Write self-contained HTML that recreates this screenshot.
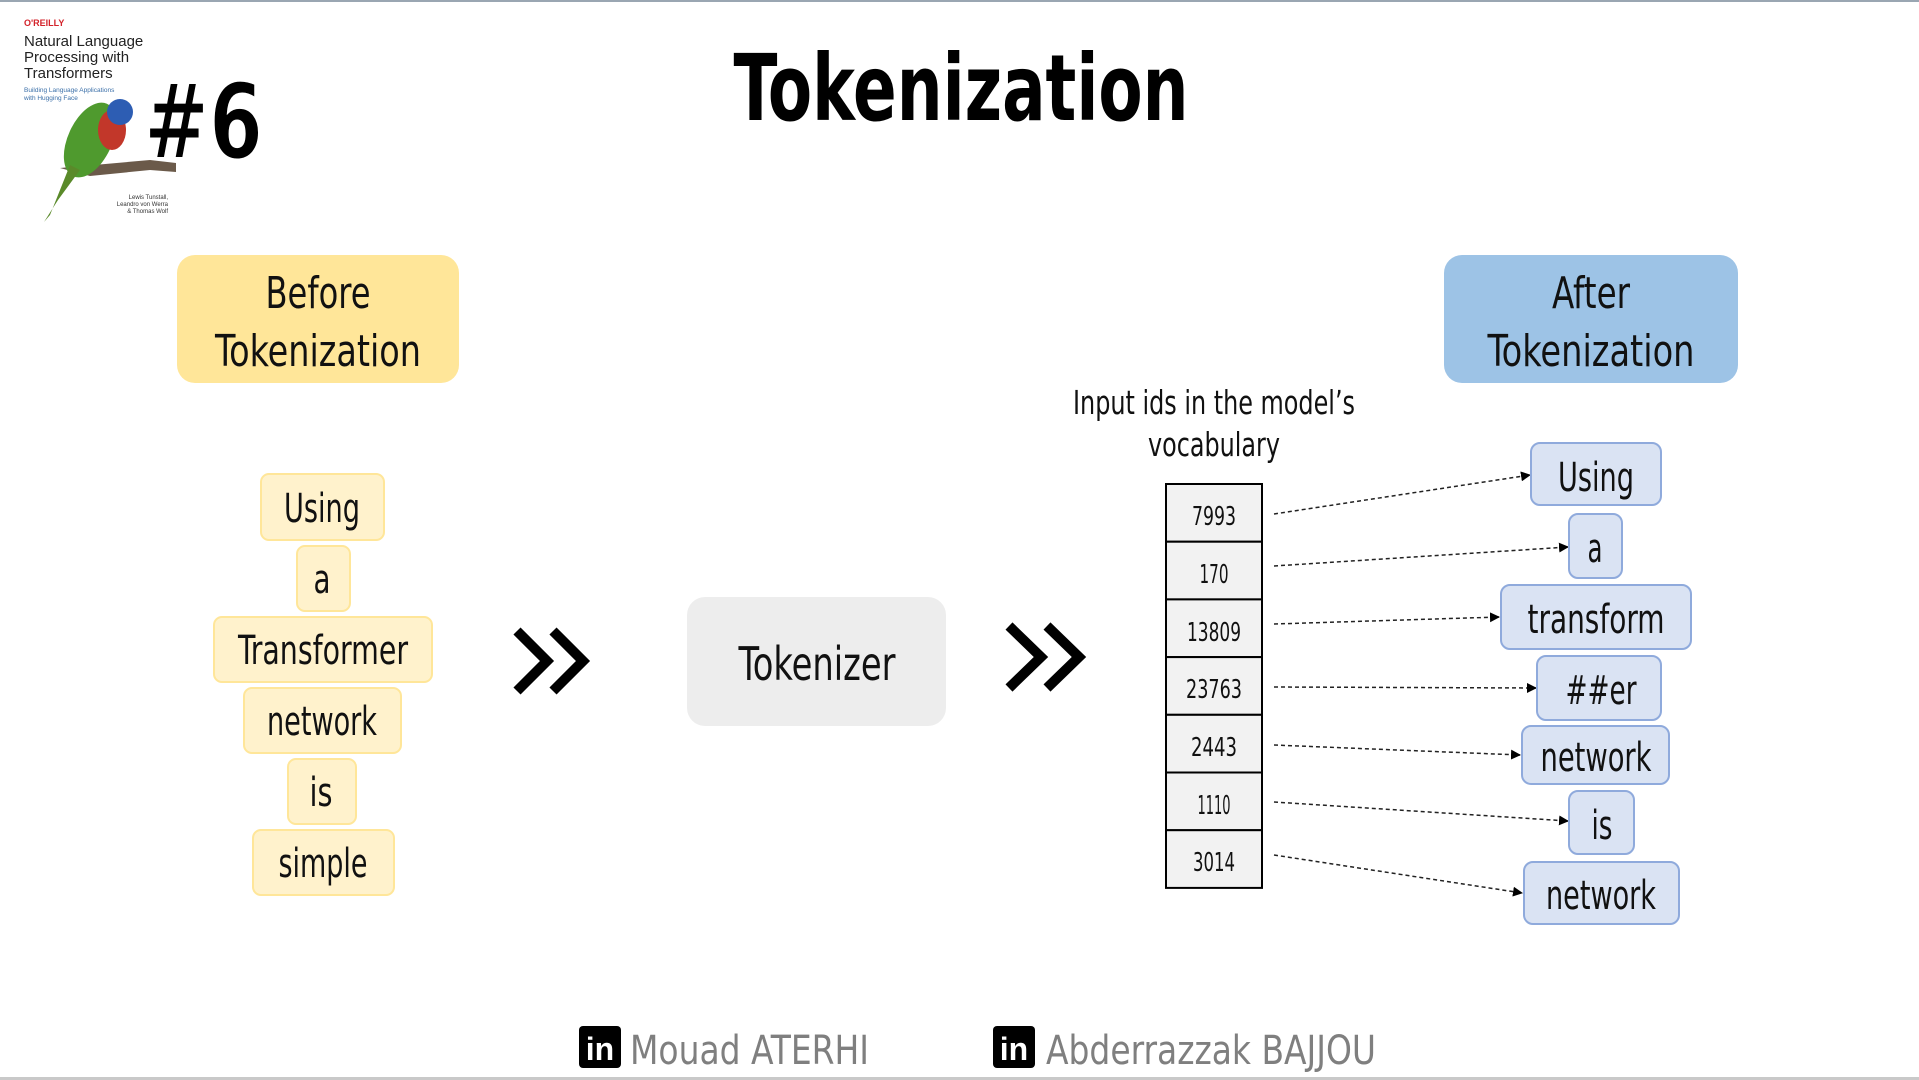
<!DOCTYPE html>
<html><head><meta charset="utf-8"><style>
html,body{margin:0;padding:0;background:#fff;}
svg{display:block;}
text{font-family:"Liberation Sans Narrow","DejaVu Sans Condensed","Liberation Sans",sans-serif;}
.s{font-family:"Liberation Sans",sans-serif;}
</style></head><body>
<svg width="1919" height="1080" viewBox="0 0 1919 1080" xmlns="http://www.w3.org/2000/svg">
<defs>
<marker id="ar" markerWidth="10" markerHeight="10" refX="9" refY="5" orient="auto" markerUnits="userSpaceOnUse"><path d="M0,0 L10,5 L0,10 z" fill="#000"/></marker>
</defs>
<rect x="0" y="0" width="1919" height="2" fill="#9aa6b2"/>
<rect x="0" y="1077" width="1919" height="3" fill="#c9c9c9"/>
<!-- book cover -->
<text class="s" x="24" y="26" font-size="9" font-weight="bold" fill="#d3222a">O'REILLY</text>
<text class="s" x="24" y="46" font-size="15" fill="#222">Natural Language</text>
<text class="s" x="24" y="62" font-size="15" fill="#222">Processing with</text>
<text class="s" x="24" y="78" font-size="15" fill="#222">Transformers</text>
<text class="s" x="24" y="92" font-size="6.5" fill="#3a6fa8">Building Language Applications</text>
<text class="s" x="24" y="100" font-size="6.5" fill="#3a6fa8">with Hugging Face</text>
<path d="M60,168 L150,160 L176,163 L176,172 L150,170 L90,176 Z" fill="#6b5a4a"/>
<ellipse cx="90" cy="140" rx="22" ry="40" fill="#4f9a2e" transform="rotate(25 90 140)"/>
<ellipse cx="112" cy="130" rx="14" ry="20" fill="#c2372a"/>
<circle cx="120" cy="112" r="13" fill="#2d5db3"/>
<path d="M70,165 L50,215 L44,222 L58,200 L80,170Z" fill="#5a8a2a"/>
<text class="s" x="168" y="199" font-size="6" fill="#333" text-anchor="end">Lewis Tunstall,</text>
<text class="s" x="168" y="206" font-size="6" fill="#333" text-anchor="end">Leandro von Werra</text>
<text class="s" x="168" y="213" font-size="6" fill="#333" text-anchor="end">&amp; Thomas Wolf</text>
<text x="144" y="158" font-size="104" font-weight="bold" fill="#000" stroke="#fff" stroke-width="2" textLength="119" lengthAdjust="spacingAndGlyphs">#6</text>
<!-- title -->
<text x="961" y="120" font-size="92" font-weight="bold" text-anchor="middle" fill="#000" textLength="455" lengthAdjust="spacingAndGlyphs">Tokenization</text>
<!-- header boxes -->
<rect x="177" y="255" width="282" height="128" rx="18" fill="#ffe699"/>
<text x="318" y="308" font-size="44" text-anchor="middle" fill="#111" textLength="105" lengthAdjust="spacingAndGlyphs">Before</text>
<text x="318" y="366" font-size="44" text-anchor="middle" fill="#111" textLength="206" lengthAdjust="spacingAndGlyphs">Tokenization</text>
<rect x="1444" y="255" width="294" height="128" rx="18" fill="#9dc3e6"/>
<text x="1591" y="308" font-size="44" text-anchor="middle" fill="#111" textLength="78" lengthAdjust="spacingAndGlyphs">After</text>
<text x="1591" y="366" font-size="44" text-anchor="middle" fill="#111" textLength="207" lengthAdjust="spacingAndGlyphs">Tokenization</text>
<!-- left tokens -->
<g fill="#fff2cc" stroke="#ffe699" stroke-width="2">
<rect x="261" y="474" width="123" height="66" rx="8"/>
<rect x="297" y="546" width="53" height="65" rx="8"/>
<rect x="214" y="617" width="218" height="65" rx="8"/>
<rect x="244" y="688" width="157" height="65" rx="8"/>
<rect x="288" y="759" width="68" height="65" rx="8"/>
<rect x="253" y="830" width="141" height="65" rx="8"/>
</g>
<g font-size="40" text-anchor="middle" fill="#111" lengthAdjust="spacingAndGlyphs">
<text x="322" y="522" textLength="76" lengthAdjust="spacingAndGlyphs">Using</text>
<text x="322" y="593" textLength="17" lengthAdjust="spacingAndGlyphs">a</text>
<text x="323" y="664" textLength="170" lengthAdjust="spacingAndGlyphs">Transformer</text>
<text x="322" y="735" textLength="110" lengthAdjust="spacingAndGlyphs">network</text>
<text x="321" y="806" textLength="23" lengthAdjust="spacingAndGlyphs">is</text>
<text x="323" y="877" textLength="89" lengthAdjust="spacingAndGlyphs">simple</text>
</g>
<!-- chevrons -->
<g fill="none" stroke="#000" stroke-width="10" stroke-linejoin="miter">
<path d="M517,631 L547,661 L517,691"/><path d="M553,631 L583,661 L553,691"/>
<path d="M1009,626 L1041,657 L1009,688"/><path d="M1047,626 L1079,657 L1047,688"/>
</g>
<!-- tokenizer -->
<rect x="687" y="597" width="259" height="129" rx="18" fill="#ededed"/>
<text x="817" y="680" font-size="46" text-anchor="middle" fill="#111" textLength="157" lengthAdjust="spacingAndGlyphs">Tokenizer</text>
<!-- vocab label -->
<text x="1214" y="414" font-size="33" text-anchor="middle" fill="#111" textLength="282" lengthAdjust="spacingAndGlyphs">Input ids in the model’s</text>
<text x="1214" y="456" font-size="33" text-anchor="middle" fill="#111" textLength="132" lengthAdjust="spacingAndGlyphs">vocabulary</text>
<!-- table -->
<g fill="#f2f2f2" stroke="#000" stroke-width="2">
<rect x="1166" y="484" width="96" height="57.7"/>
<rect x="1166" y="541.7" width="96" height="57.7"/>
<rect x="1166" y="599.4" width="96" height="57.7"/>
<rect x="1166" y="657.1" width="96" height="57.7"/>
<rect x="1166" y="714.8" width="96" height="57.7"/>
<rect x="1166" y="772.5" width="96" height="57.7"/>
<rect x="1166" y="830.2" width="96" height="57.7"/>
</g>
<g font-size="26" text-anchor="middle" fill="#111">
<text x="1214" y="525" textLength="44" lengthAdjust="spacingAndGlyphs">7993</text>
<text x="1214" y="583" textLength="29" lengthAdjust="spacingAndGlyphs">170</text>
<text x="1214" y="641" textLength="54" lengthAdjust="spacingAndGlyphs">13809</text>
<text x="1214" y="698" textLength="56" lengthAdjust="spacingAndGlyphs">23763</text>
<text x="1214" y="756" textLength="46" lengthAdjust="spacingAndGlyphs">2443</text>
<text x="1214" y="814" textLength="33" lengthAdjust="spacingAndGlyphs">1110</text>
<text x="1214" y="871" textLength="42" lengthAdjust="spacingAndGlyphs">3014</text>
</g>
<!-- arrows -->
<g stroke="#222" stroke-width="1.5" stroke-dasharray="4,3" fill="none" marker-end="url(#ar)">
<line x1="1274" y1="514" x2="1530" y2="475"/>
<line x1="1274" y1="566" x2="1568" y2="547"/>
<line x1="1274" y1="624" x2="1499" y2="617"/>
<line x1="1274" y1="687" x2="1536" y2="688"/>
<line x1="1274" y1="745" x2="1520" y2="755"/>
<line x1="1274" y1="802" x2="1568" y2="821"/>
<line x1="1274" y1="855" x2="1522" y2="893"/>
</g>
<!-- right tokens -->
<g fill="#dae3f3" stroke="#8faadc" stroke-width="2">
<rect x="1531" y="443" width="130" height="62" rx="9"/>
<rect x="1569" y="514" width="53" height="64" rx="9"/>
<rect x="1501" y="585" width="190" height="64" rx="9"/>
<rect x="1537" y="656" width="124" height="64" rx="9"/>
<rect x="1522" y="726" width="147" height="58" rx="9"/>
<rect x="1569" y="791" width="65" height="63" rx="9"/>
<rect x="1524" y="862" width="155" height="62" rx="9"/>
</g>
<g font-size="40" text-anchor="middle" fill="#111">
<text x="1596" y="491" textLength="76" lengthAdjust="spacingAndGlyphs">Using</text>
<text x="1595" y="562" textLength="15" lengthAdjust="spacingAndGlyphs">a</text>
<text x="1596" y="633" textLength="137" lengthAdjust="spacingAndGlyphs">transform</text>
<text x="1601" y="704" textLength="71" lengthAdjust="spacingAndGlyphs">##er</text>
<text x="1596" y="771" textLength="111" lengthAdjust="spacingAndGlyphs">network</text>
<text x="1602" y="839" textLength="21" lengthAdjust="spacingAndGlyphs">is</text>
<text x="1601" y="909" textLength="110" lengthAdjust="spacingAndGlyphs">network</text>
</g>
<!-- footer -->
<rect x="579" y="1026" width="42" height="42" rx="4" fill="#000"/>
<text class="s" x="600" y="1060" font-size="32" font-weight="bold" text-anchor="middle" fill="#fff">in</text>
<text x="630" y="1064" font-size="40" fill="#7f7f7f" textLength="239" lengthAdjust="spacingAndGlyphs">Mouad ATERHI</text>
<rect x="993" y="1026" width="42" height="42" rx="4" fill="#000"/>
<text class="s" x="1014" y="1060" font-size="32" font-weight="bold" text-anchor="middle" fill="#fff">in</text>
<text x="1046" y="1064" font-size="40" fill="#7f7f7f" textLength="330" lengthAdjust="spacingAndGlyphs">Abderrazzak BAJJOU</text>
</svg>
</body></html>
